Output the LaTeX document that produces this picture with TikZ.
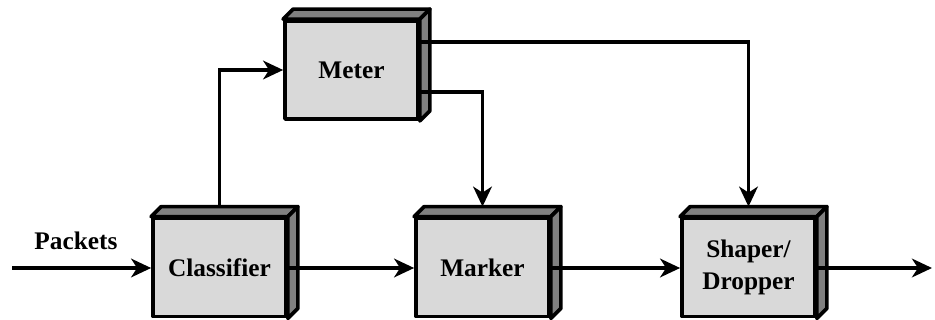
\documentclass[tikz,border=0pt]{standalone}
\usepackage{fontspec}
\setmainfont{Liberation Serif}
\usetikzlibrary{arrows.meta,calc}
\definecolor{frontgray}{HTML}{D9D9D9}
\definecolor{sidegray}{HTML}{808080}
\tikzset{
  blk/.style={draw=black, fill=frontgray, line width=2.8pt, line join=round,
    minimum width=99.75pt, minimum height=73.5pt, inner sep=0pt, align=center,
    font=\fontsize{19}{24.5}\selectfont\bfseries},
  face/.style={draw=black, fill=sidegray, line width=2.8pt, line join=round},
  flow/.style={line width=2.5pt, -{Stealth[length=15pt,width=14pt,inset=4.5pt]}},
  lbl/.style={font=\fontsize{19}{22}\selectfont\bfseries, inner sep=0pt}
}
\newcommand{\depthfaces}[1]{%
  \path[face] (#1.north west) -- ++(7.5pt,7.5pt) -- ($(#1.north east)+(7.5pt,7.5pt)$) -- (#1.north east) -- cycle;
  \path[face] (#1.north east) -- ++(7.5pt,7.5pt) -- ($(#1.south east)+(7.5pt,7.5pt)$) -- (#1.south east) -- cycle;
}
\begin{document}
\begin{tikzpicture}[x=0.75pt,y=-0.75pt]
\useasboundingbox (0,0) rectangle (935,320);
% block positions (named), faces first, then front faces with text
\path (219.5,267.5) node[blk, draw=none, fill=none] (cls) {}
      (482.5,267.5) node[blk, draw=none, fill=none] (mrk) {}
      (748.5,267.5) node[blk, draw=none, fill=none] (shp) {}
      (351.5,70)    node[blk, draw=none, fill=none] (mtr) {};
\depthfaces{cls}
\depthfaces{mrk}
\depthfaces{shp}
\depthfaces{mtr}
\node[blk] (clsF) at (cls.center) {Classifier};
\node[blk] (mrkF) at (mrk.center) {Marker};
\node[blk] (shpF) at (shp.center) {Shaper/\\Dropper};
\node[blk] (mtrF) at (mtr.center) {Meter};
% helper coordinates
\coordinate (in) at (12,268);
\coordinate (out) at (932,268);
\coordinate (clstop) at ($(cls.north)+(0,-10)$);
\coordinate (mrktop) at ($(mrk.north)+(0,-10)$);
\coordinate (shptop) at ($(shp.north)+(0,-10)$);
\coordinate (mtrA) at ($(mtr.east)+(0,-28)$);
\coordinate (mtrB) at ($(mtr.east)+(0,22)$);
% label
\node[lbl] (pk) at (76,241) {Packets};
% connectors
\draw[flow] (in) -- (cls.west |- in);
\draw[flow] (cls.east |- in) -- (mrk.west |- in);
\draw[flow] (mrk.east |- in) -- (shp.west |- in);
\draw[flow] (shp.east |- in) -- (out);
\draw[flow] (clstop) |- (mtr.west);
\draw[flow] (mtrB) -| (mrktop);
\draw[flow] (mtrA) -| (shptop);
\end{tikzpicture}
\end{document}
